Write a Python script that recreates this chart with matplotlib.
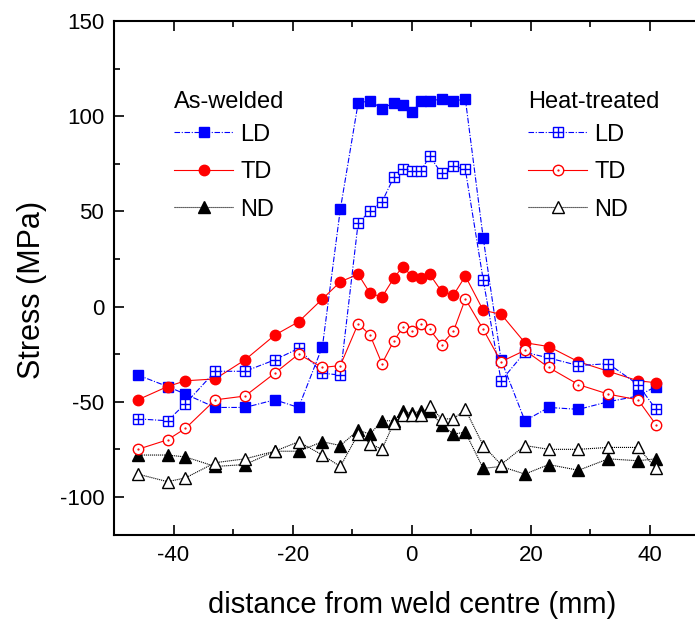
import matplotlib
matplotlib.use("Agg")
import matplotlib.pyplot as plt
from matplotlib.legend_handler import HandlerTuple

plt.rcParams['font.family'] = ['Liberation Sans', 'DejaVu Sans']
plt.rcParams['axes.unicode_minus'] = False

distance = [-46, -41, -38, -33, -28, -23, -19, -15, -12, -9, -7, -5, -3, -1.5, 0,
            1.5, 3, 5, 7, 9, 12, 15, 19, 23, 28, 33, 38, 41]

# as-welded
aw_ld = [-36, -42, -46, -53, -53, -49, -53, -21, 51, 107, 108, 104, 107, 106, 102,
         108, 108, 109, 108, 109, 36, -28, -60, -53, -54, -50, -47, -42]
aw_td = [-49, -42, -39, -38, -28, -15, -8, 4, 13, 17, 7, 5, 15, 21, 16,
         15, 17, 8, 6, 16, -2, -4, -19, -21, -29, -34, -39, -40]
aw_nd = [-78, -78, -79, -84, -83, -76, -76, -71, -73, -65, -67, -60, -60, -55, -56,
         -55, -55, -62, -67, -66, -85, -84, -88, -83, -86, -80, -81, -80]

# heat-treated
ht_ld = [-59, -60, -51, -34, -34, -28, -22, -35, -36, 44, 50, 55, 68, 72, 71,
         71, 79, 70, 74, 72, 14, -39, -24, -27, -31, -30, -41, -54]
ht_td = [-75, -70, -64, -49, -47, -35, -25, -32, -31, -9, -15, -30, -18, -11, -13,
         -9, -12, -20, -13, 4, -12, -29, -23, -32, -41, -46, -49, -62]
ht_nd = [-88, -92, -90, -82, -80, -76, -71, -78, -84, -67, -72, -75, -61, -57, -57,
         -57, -52, -59, -59, -54, -73, -83, -73, -75, -75, -74, -74, -85]

BLUE = '#0000ff'
RED = '#ff0000'
dashdot = (0, (5, 1.5, 1, 1.5))
dotted = (0, (1, 0.8))

fig = plt.figure(figsize=(6.95, 6.22), dpi=100)
ax = fig.add_axes([114 / 695, 87 / 622, 595.5 / 695, 514 / 622])

ms = 6.5
lw = 0.8

l1, = ax.plot(distance, aw_ld, color=BLUE, ls=dashdot, lw=lw, marker='s', ms=ms, mec=BLUE, mfc=BLUE)
l2, = ax.plot(distance, aw_td, color=RED, ls='-', lw=lw, marker='o', ms=ms + 1, mec=RED, mfc=RED)
l3, = ax.plot(distance, aw_nd, color='black', ls=dotted, lw=lw, marker='^', ms=ms + 1.5, mec='black', mfc='black')

h1, = ax.plot(distance, ht_ld, color=BLUE, ls=dashdot, lw=lw, marker='s', ms=ms, mec=BLUE, mfc='white', mew=1)
h1b, = ax.plot(distance, ht_ld, ls='none', marker='+', ms=ms, mec=BLUE, mew=1)
h2, = ax.plot(distance, ht_td, color=RED, ls='-', lw=lw, marker='o', ms=ms + 1, mec=RED, mfc='white', mew=1)
h2b, = ax.plot(distance, ht_td, ls='none', marker='.', ms=1.2, mec=RED, mfc=RED)
h3, = ax.plot(distance, ht_nd, color='black', ls=dotted, lw=lw, marker='^', ms=ms + 2.5, mec='black', mfc='white', mew=1)

ax.set_xlim(-50, 50)
ax.set_ylim(-120, 150)
ax.set_xticks([-40, -20, 0, 20, 40])
ax.set_xticks([-30, -10, 10, 30], minor=True)
ax.set_yticks([-100, -50, 0, 50, 100, 150])
ax.set_yticks([-75, -25, 25, 75, 125], minor=True)
ax.tick_params(which='both', direction='in', top=True, right=False, labelsize=16, width=1.2, pad=7)
ax.tick_params(which='major', length=7)
ax.tick_params(which='minor', length=4)
for s in ax.spines.values():
    s.set_linewidth(1.5)
ax.spines['right'].set_visible(False)

ax.set_xlabel('distance from weld centre (mm)', fontsize=21, labelpad=18)
ax.set_ylabel('Stress (MPa)', fontsize=22)
ax.yaxis.set_label_coords(-0.112, 0.477)

leg_kw = dict(frameon=False, fontsize=17, title_fontsize=17, alignment='left',
              handlelength=2.5, handletextpad=0.3, labelspacing=0.66,
              borderpad=0, borderaxespad=0, bbox_transform=fig.transFigure, loc='upper left')

leg1 = ax.legend([l1, l2, l3], ['LD', 'TD', 'ND'], title='As-welded',
                 bbox_to_anchor=(174 / 695, 1 - 91 / 622), **leg_kw)
leg1._legend_box.sep = 7.6
ax.add_artist(leg1)
leg2 = ax.legend([(h1, h1b), (h2, h2b), h3], ['LD', 'TD', 'ND'], title='Heat-treated',
                 handler_map={tuple: HandlerTuple(ndivide=1)},
                 bbox_to_anchor=(528 / 695, 1 - 91 / 622), **leg_kw)
leg2._legend_box.sep = 7.6

fig.savefig('out.png', dpi=100)
